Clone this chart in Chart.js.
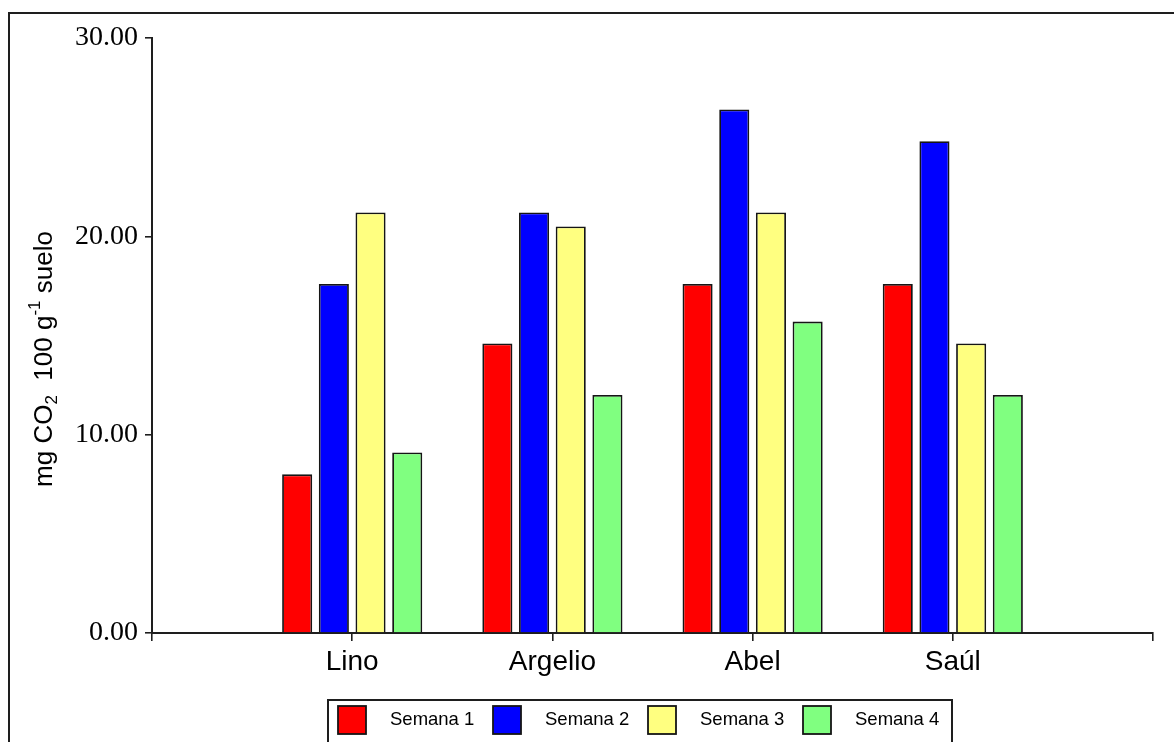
<!DOCTYPE html>
<html>
<head>
<meta charset="utf-8">
<script src="https://cdn.jsdelivr.net/npm/chart.js@4.4.0/dist/chart.umd.min.js"></script>
<style>
  html, body { margin: 0; padding: 0; background: #ffffff; overflow: hidden; }
  canvas { display: block; }
</style>
</head>
<body>
<canvas id="chart" width="1174" height="742"></canvas>
<script>
// Sites sampled and weekly CO2 release (mg CO2 per 100 g of soil)
const categories = ['Lino', 'Argelio', 'Abel', 'Saúl'];
const seriesNames = ['Semana 1', 'Semana 2', 'Semana 3', 'Semana 4'];
const semana1 = [8.0, 14.6, 17.6, 17.6];
const semana2 = [17.6, 21.2, 26.4, 24.8];
const semana3 = [21.2, 20.5, 21.2, 14.6];
const semana4 = [9.1, 12.0, 15.7, 12.0];
const yTicks = [0, 10, 20, 30];
const seriesColors = ['#ff0000', '#0000ff', '#ffff80', '#80ff80'];

// Empty slots at both ends so the category axis runs from edge tick to edge tick
const labels = [''].concat(categories, ['']);
const pad = arr => [null].concat(arr, [null]);
const seriesValues = [semana1, semana2, semana3, semana4];

const datasets = seriesValues.map((vals, i) => ({
  label: seriesNames[i],
  data: pad(vals),
  backgroundColor: seriesColors[i],
  borderColor: '#151515',
  borderWidth: 1.8,
  borderSkipped: 'bottom',
  categoryPercentage: 0.733,
  barPercentage: 0.82
}));

// Outer frame, rotated axis title with sub/superscripts and the boxed legend
const decorations = {
  id: 'decorations',
  afterDraw(chart) {
    const ctx = chart.ctx;
    ctx.save();

    // frame
    ctx.strokeStyle = '#1e1e1e';
    ctx.lineWidth = 2;
    ctx.beginPath();
    ctx.moveTo(9, 760);
    ctx.lineTo(9, 13);
    ctx.lineTo(1180, 13);
    ctx.stroke();

    // y axis title
    const big = '26px "Liberation Sans", Arial, sans-serif';
    const small = '17px "Liberation Sans", Arial, sans-serif';
    const parts = [
      { t: 'mg CO', f: big, dy: 0 },
      { t: '2', f: small, dy: 5 },
      { t: '  100 g', f: big, dy: 0 },
      { t: '-1', f: small, dy: -12 },
      { t: ' suelo', f: big, dy: 0 }
    ];
    let total = 0;
    parts.forEach(p => { ctx.font = p.f; p.w = ctx.measureText(p.t).width; total += p.w; });
    ctx.translate(52, 359);
    ctx.rotate(-Math.PI / 2);
    ctx.fillStyle = '#000000';
    ctx.textBaseline = 'alphabetic';
    ctx.textAlign = 'left';
    let u = -total / 2;
    parts.forEach(p => { ctx.font = p.f; ctx.fillText(p.t, u, p.dy); u += p.w; });
    ctx.setTransform(1, 0, 0, 1, 0, 0);

    // legend box
    ctx.strokeStyle = '#1e1e1e';
    ctx.lineWidth = 2;
    ctx.strokeRect(328, 700, 624, 60);
    ctx.font = '18.5px "Liberation Sans", Arial, sans-serif';
    ctx.textBaseline = 'middle';
    chart.data.datasets.forEach((ds, i) => {
      const x = 338 + i * 155;
      ctx.fillStyle = ds.backgroundColor;
      ctx.fillRect(x, 706, 28, 28);
      ctx.lineWidth = 1.8;
      ctx.strokeStyle = '#151515';
      ctx.strokeRect(x, 706, 28, 28);
      ctx.fillStyle = '#000000';
      ctx.fillText(ds.label, x + 52, 720);
    });
    ctx.restore();
  }
};

new Chart(document.getElementById('chart'), {
  type: 'bar',
  data: { labels: labels, datasets: datasets },
  options: {
    responsive: false,
    animation: false,
    layout: { padding: { left: 0, top: 38, right: 21, bottom: 0 } },
    plugins: { legend: { display: false }, tooltip: { enabled: false } },
    scales: {
      x: {
        type: 'category',
        offset: false,
        grid: {
          offset: false,
          drawOnChartArea: false,
          drawTicks: true,
          tickLength: 8,
          color: '#1e1e1e',
          lineWidth: 1.6
        },
        border: { display: true, color: '#1e1e1e', width: 2 },
        ticks: {
          color: '#000000',
          padding: 4,
          maxRotation: 0,
          autoSkip: false,
          font: { family: '"Liberation Sans", Arial, sans-serif', size: 28 }
        },
        afterFit(scale) { scale.height = 742 - 633; }
      },
      y: {
        min: 0,
        max: 30,
        afterBuildTicks(scale) { scale.ticks = yTicks.map(v => ({ value: v })); },
        grid: {
          drawOnChartArea: false,
          drawTicks: true,
          tickLength: 7,
          color: '#1e1e1e',
          lineWidth: 1.6
        },
        border: { display: true, color: '#1e1e1e', width: 2 },
        ticks: {
          color: '#000000',
          padding: 7,
          callback: v => Number(v).toFixed(2),
          font: { family: '"Liberation Serif", "Times New Roman", serif', size: 28 }
        },
        afterFit(scale) { scale.width = 152; }
      }
    }
  },
  plugins: [decorations]
});
</script>
</body>
</html>
